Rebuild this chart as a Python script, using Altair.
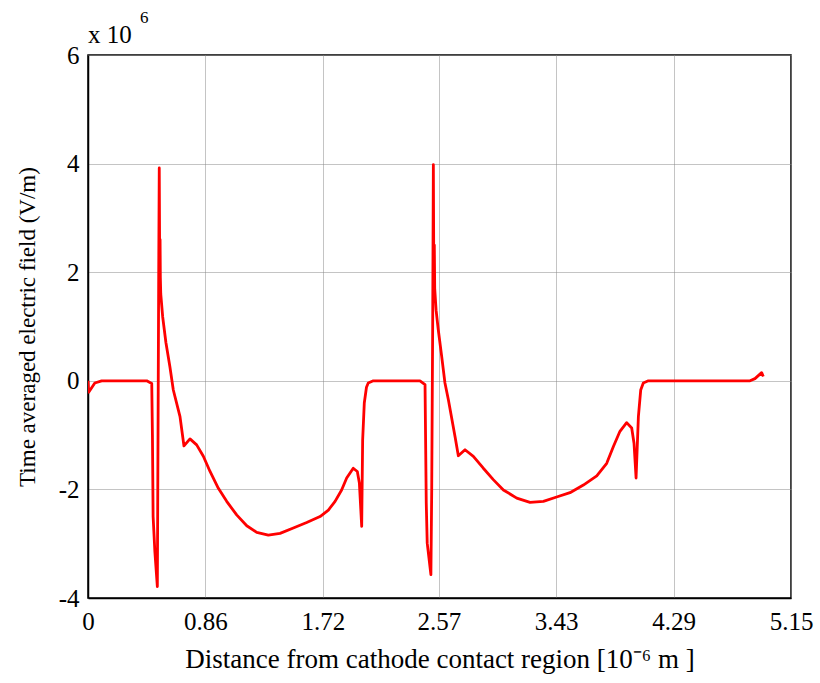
import altair as alt
import pandas as pd

# distance [1e-6 m]
xs = [0.0, 0.005, 0.05, 0.10, 0.43, 0.467, 0.472, 0.477, 0.49, 0.508, 0.513, 0.518, 0.522, 0.525, 0.528, 0.530, 0.533,
      0.547, 0.571, 0.60, 0.625, 0.674, 0.703, 0.747, 0.796, 0.845, 0.894, 0.955, 1.016, 1.089, 1.163, 1.236,
      1.321, 1.407, 1.504, 1.602, 1.700, 1.761, 1.810, 1.858, 1.895, 1.943, 1.973, 1.988, 2.005, 2.012, 2.024,
      2.040, 2.053, 2.09,
      2.432, 2.469, 2.478, 2.485, 2.512, 2.518, 2.525, 2.530, 2.533, 2.537, 2.540, 2.55,
      2.566, 2.591, 2.615, 2.640, 2.689, 2.713, 2.762, 2.823, 2.896, 2.969, 3.043, 3.141, 3.238, 3.336, 3.433,
      3.531, 3.629, 3.727, 3.800, 3.849, 3.897, 3.946, 3.983, 4.0, 4.015, 4.032, 4.049, 4.068, 4.105,
      4.850, 4.886, 4.935, 4.947]
# time averaged field [1e6 V/m]
ys = [0.0, -0.21, -0.04, 0.0, 0.0, -0.05, -1.0, -2.5, -3.15, -3.79, -1.0, 2.0, 3.92, 2.3, 2.6, 1.9, 1.6,
      1.18, 0.70, 0.26, -0.17, -0.66, -1.20, -1.07, -1.18, -1.39, -1.67, -1.98, -2.22, -2.47, -2.67, -2.79,
      -2.84, -2.81, -2.71, -2.61, -2.50, -2.38, -2.22, -2.01, -1.79, -1.61, -1.67, -1.88, -2.68, -1.09, -0.41,
      -0.12, -0.04, 0.0,
      0.0, -0.07, -2.25, -2.99, -3.57, -2.0, 1.0, 3.98, 2.2, 2.5, 1.7, 1.3,
      0.94, 0.45, -0.04, -0.35, -1.03, -1.38, -1.27, -1.39, -1.61, -1.82, -2.01, -2.16, -2.24, -2.22, -2.14,
      -2.06, -1.92, -1.75, -1.52, -1.21, -0.93, -0.77, -0.87, -1.15, -1.79, -0.66, -0.17, -0.04, 0.0,
      0.0, 0.04, 0.15, 0.08]

x_ticks = [0, 0.86, 1.72, 2.57, 3.43, 4.29, 5.15]
y_ticks = [-4, -2, 0, 2, 4, 6]

df = pd.DataFrame({"x": xs, "y": ys, "i": list(range(len(xs)))})

FONT = "Liberation Serif"

line = alt.Chart(df).mark_line(color="#ff0000", strokeWidth=2.8, clip=True, strokeJoin="round").encode(
    x=alt.X("x:Q", scale=alt.Scale(domain=[0, 5.15], nice=False, zero=False),
            axis=alt.Axis(values=x_ticks, labelFlush=False,
                          labelExpr="datum.value == 0 ? '0' : format(datum.value, '.2f')",
                          title="Distance from cathode contact region [10⁻⁶ m ]",
                          grid=True, gridColor="#888888", gridDash=[1, 1], gridWidth=1,
                          domainColor="black", domainWidth=1.5, tickColor="black", tickSize=0,
                          labelFont=FONT, labelFontSize=25, labelColor="black", labelPadding=11,
                          titleFont=FONT, titleFontSize=27, titleFontWeight="normal", titleColor="black",
                          titlePadding=12)),
    y=alt.Y("y:Q", scale=alt.Scale(domain=[-4, 6], nice=False, zero=False),
            axis=alt.Axis(values=y_ticks, labelFlush=False,
                          labelExpr="replace(toString(datum.value), '−', '-')",
                          title="Time averaged electric field (V/m)",
                          grid=True, gridColor="#888888", gridDash=[1, 1], gridWidth=1,
                          domainColor="black", domainWidth=1.5, tickColor="black", tickSize=0,
                          labelFont=FONT, labelFontSize=25, labelColor="black", labelPadding=9,
                          titleFont=FONT, titleFontSize=23, titleFontWeight="normal", titleColor="black",
                          titlePadding=19)),
    order="i:Q",
)

mult = alt.Chart(pd.DataFrame({"t": ["x 10"]})).mark_text(
    font=FONT, fontSize=25, align="left", baseline="alphabetic", color="black"
).encode(x=alt.value(0), y=alt.value(-12), text="t:N")
mult_sup = alt.Chart(pd.DataFrame({"s": ["6"]})).mark_text(
    font=FONT, fontSize=17, align="left", baseline="alphabetic", color="black"
).encode(x=alt.value(52), y=alt.value(-32), text="s:N")

chart = alt.layer(line, mult, mult_sup).properties(
    width=703, height=543,
    autosize=alt.AutoSizeParams(type="none"),
    padding={"left": 88, "top": 55, "right": 29, "bottom": 85},
    background="white",
).configure_view(stroke="black", strokeWidth=1.5)

chart.save("out.html", embed_options={"renderer": "svg", "actions": False})
